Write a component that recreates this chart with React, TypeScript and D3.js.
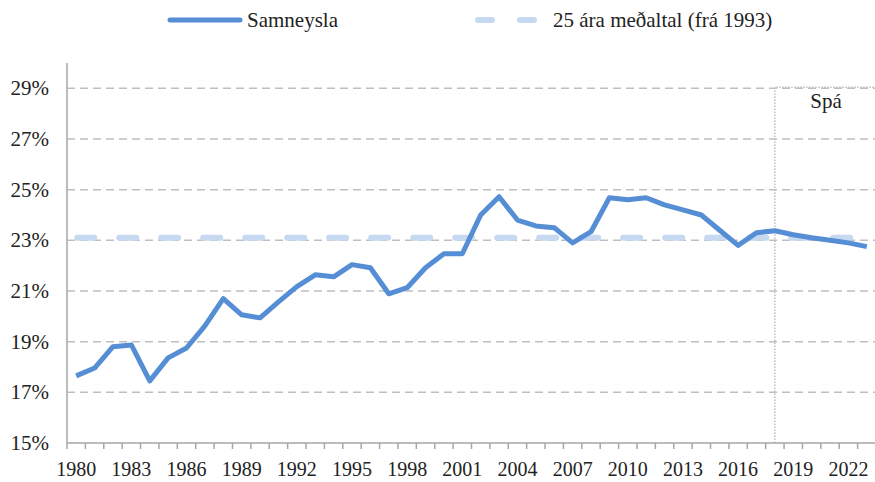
import { line as d3Line, scaleBand, scaleLinear } from "d3";

const years: number[] = [
  1980, 1981, 1982, 1983, 1984, 1985, 1986, 1987, 1988, 1989, 1990, 1991, 1992, 1993, 1994,
  1995, 1996, 1997, 1998, 1999, 2000, 2001, 2002, 2003, 2004, 2005, 2006, 2007, 2008, 2009,
  2010, 2011, 2012, 2013, 2014, 2015, 2016, 2017, 2018, 2019, 2020, 2021, 2022, 2023,
];

// Samneysla sem hlutfall (%)
const samneysla: number[] = [
  17.65, 17.96, 18.8, 18.87, 17.45, 18.36, 18.75, 19.62, 20.7, 20.06, 19.94, 20.57, 21.17, 21.64,
  21.56, 22.04, 21.92, 20.89, 21.13, 21.92, 22.47, 22.47, 24.0, 24.72, 23.8, 23.57, 23.5, 22.9,
  23.34, 24.68, 24.6, 24.68, 24.4, 24.2, 24.0, 23.4, 22.8, 23.3, 23.38, 23.22, 23.1, 23.0, 22.9,
  22.75,
];

const average = 23.1;
const forecastStart = 2018;
const yTicks: number[] = [15, 17, 19, 21, 23, 25, 27, 29];
const xLabelYears: number[] = years.filter((y) => (y - 1980) % 3 === 0);

const WIDTH = 875;
const HEIGHT = 482;
const PLOT = { left: 67, right: 876, top: 63, bottom: 443 };
const FONT = "Liberation Serif, Times New Roman, Times, DejaVu Serif, serif";
const MAIN = "#558ED5";
const AVG = "#C6D9F1";
const AXIS = "#A6A6A6";
const GRID = "#BFBFBF";

export default function App() {
  const x = scaleBand<number>().domain(years).range([PLOT.left, PLOT.right]).padding(0);
  const y = scaleLinear().domain([15, 30]).range([PLOT.bottom, PLOT.top]);
  const cx = (yr: number) => (x(yr) ?? 0) + x.bandwidth() / 2;

  const pts = years.map((yr, i) => ({ yr, v: samneysla[i] }));
  const path =
    d3Line<{ yr: number; v: number }>()
      .x((d) => cx(d.yr))
      .y((d) => y(d.v))(pts) ?? "";

  const fx = cx(forecastStart);
  const topY = y(29);

  return (
    <svg
      width={WIDTH}
      height={HEIGHT}
      style={{ position: "absolute", left: 0, top: 0, fontFamily: FONT }}
    >
      <rect width={WIDTH} height={HEIGHT} fill="#fff" />

      {/* legend */}
      <line x1={170} x2={240} y1={20} y2={20} stroke={MAIN} strokeWidth={5} strokeLinecap="round" />
      <text x={247} y={27} fontSize={21} fill="#222">
        Samneysla
      </text>
      <line
        x1={478}
        x2={537}
        y1={20}
        y2={20}
        stroke={AVG}
        strokeWidth={6}
        strokeLinecap="round"
        strokeDasharray="14 28"
      />
      <text x={553} y={27} fontSize={21} fill="#222">
        25 ára meðaltal (frá 1993)
      </text>

      {/* grid */}
      {yTicks
        .filter((t) => t > 15)
        .map((t) => (
          <line
            key={t}
            x1={PLOT.left}
            x2={PLOT.right}
            y1={y(t)}
            y2={y(t)}
            stroke={GRID}
            strokeWidth={1.5}
            strokeDasharray="8 5"
          />
        ))}

      {/* forecast box */}
      <path
        d={`M${fx},${PLOT.bottom}V${topY - 1}H${PLOT.right}`}
        fill="none"
        stroke={GRID}
        strokeWidth={1.5}
        strokeDasharray="1.5 1.5"
      />
      <text x={826} y={108} textAnchor="middle" fontSize={21} fill="#222">
        Spá
      </text>

      {/* y axis */}
      <line x1={PLOT.left} x2={PLOT.left} y1={PLOT.top} y2={PLOT.bottom} stroke={AXIS} strokeWidth={1.5} />
      {yTicks.map((t) => (
        <text key={t} x={49} y={y(t) + 7} textAnchor="end" fontSize={21} fill="#222">
          {t}%
        </text>
      ))}

      {/* x axis */}
      <line x1={PLOT.left} x2={PLOT.right} y1={PLOT.bottom} y2={PLOT.bottom} stroke={AXIS} strokeWidth={1.5} />
      {years.map((yr) => (
        <line
          key={yr}
          x1={x(yr) ?? 0}
          x2={x(yr) ?? 0}
          y1={PLOT.bottom}
          y2={PLOT.bottom + 6}
          stroke={AXIS}
          strokeWidth={1.5}
        />
      ))}
      {xLabelYears.map((yr) => (
        <text key={yr} x={cx(yr)} y={476} textAnchor="middle" fontSize={20} fill="#222">
          {yr}
        </text>
      ))}

      {/* average line */}
      <line
        x1={cx(years[0]) + 1}
        x2={cx(years[years.length - 1])}
        y1={y(average)}
        y2={y(average)}
        stroke={AVG}
        strokeWidth={6}
        strokeLinecap="round"
        strokeDasharray="17 25"
      />

      {/* series */}
      <path d={path} fill="none" stroke={MAIN} strokeWidth={5} strokeLinejoin="round" />
    </svg>
  );
}
